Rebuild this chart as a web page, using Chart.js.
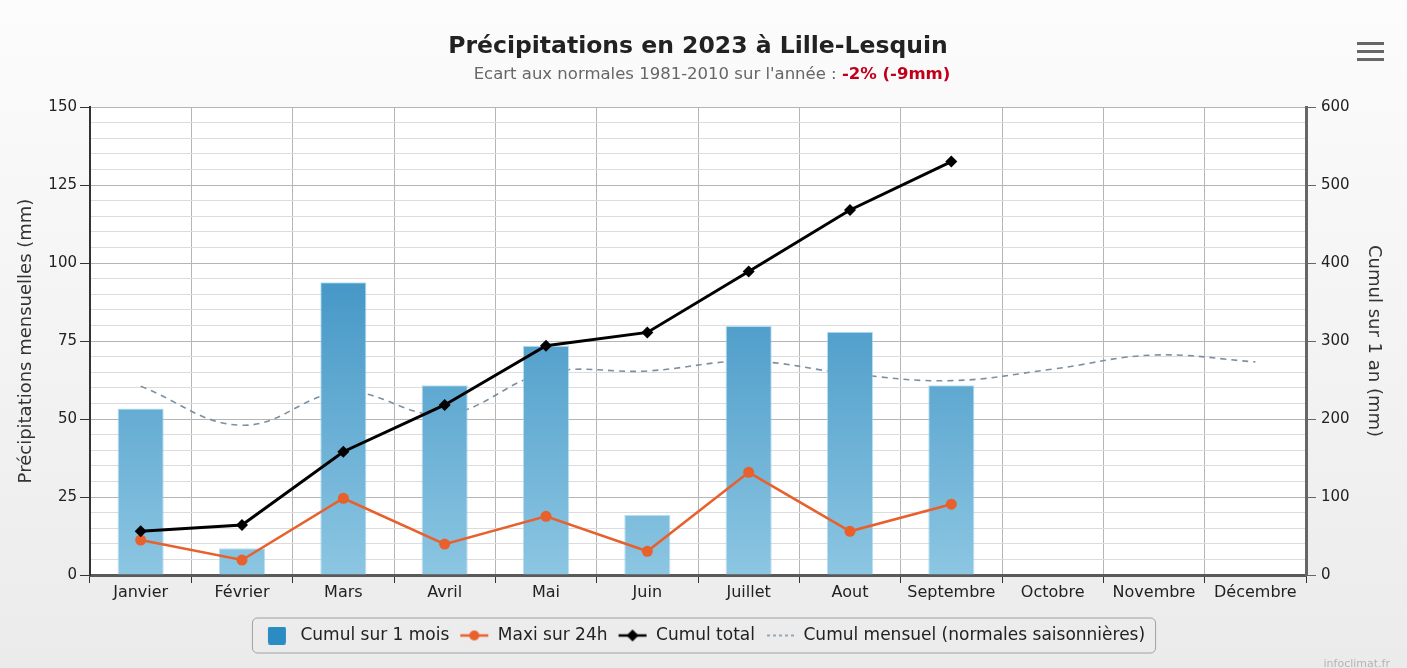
<!DOCTYPE html>
<html>
<head>
<meta charset="utf-8">
<script src="https://cdn.jsdelivr.net/npm/chart.js@4.4.0/dist/chart.umd.min.js"></script>
<style>
html, body { margin: 0; padding: 0; background: #f0f0f0; }
#wrap { position: relative; width: 1407px; height: 668px; }
</style>
</head>
<body>
<div id="wrap"><canvas id="pluie"></canvas></div>
<script>
// données
const mois = ['Janvier', 'Février', 'Mars', 'Avril', 'Mai', 'Juin', 'Juillet', 'Aout', 'Septembre', 'Octobre', 'Novembre', 'Décembre'];
const cumulMois = [53.4, 8.6, 93.8, 60.8, 73.5, 19.2, 79.8, 78.0, 60.8];
const maxi24h = [11.2, 4.8, 24.6, 9.9, 18.8, 7.6, 32.9, 14.0, 22.7];
const cumulTotal = [56, 64, 158, 218, 294, 311, 389, 468, 530];
const normales = [60.5, 48.0, 58.7, 51.5, 64.8, 65.4, 68.5, 64.5, 62.3, 66.0, 70.5, 68.3];
const ticksGauche = [0, 5, 10, 15, 20, 25, 30, 35, 40, 45, 50, 55, 60, 65, 70, 75, 80, 85, 90, 95, 100, 105, 110, 115, 120, 125, 130, 135, 140, 145, 150];
const ticksDroite = [0, 100, 200, 300, 400, 500, 600];
const legendes = ['Cumul sur 1 mois', 'Maxi sur 24h', 'Cumul total', 'Cumul mensuel (normales saisonnières)'];
const titre = 'Précipitations en 2023 à Lille-Lesquin';
const sousTitre = "Ecart aux normales 1981-2010 sur l'année : ";
const ecart = '-2% (-9mm)';

const FONT = 'DejaVu Sans';
const orange = '#e8602c';
const grisNormales = '#7b90a3';

const ctx = document.getElementById('pluie').getContext('2d');

// petits symboles pour la légende
const symbole = (draw) => {
    const c = document.createElement('canvas');
    c.width = 30;
    c.height = 18;
    draw(c.getContext('2d'));
    return c;
};
const symboles = [
    symbole(g => { g.fillStyle = '#2b8cc4'; g.beginPath(); g.roundRect(6, 0, 18, 18, 2); g.fill(); }),
    symbole(g => {
        g.strokeStyle = orange; g.lineWidth = 2.5;
        g.beginPath(); g.moveTo(1, 9); g.lineTo(29, 9); g.stroke();
        g.fillStyle = orange; g.beginPath(); g.arc(15, 9, 5, 0, Math.PI * 2); g.fill();
    }),
    symbole(g => {
        g.strokeStyle = '#000'; g.lineWidth = 2.5;
        g.beginPath(); g.moveTo(1, 9); g.lineTo(29, 9); g.stroke();
        g.fillStyle = '#000'; g.beginPath();
        g.moveTo(15, 3); g.lineTo(21, 9); g.lineTo(15, 15); g.lineTo(9, 9); g.closePath(); g.fill();
    }),
    symbole(g => {
        g.strokeStyle = grisNormales; g.lineWidth = 1.5; g.setLineDash([3, 3]);
        g.beginPath(); g.moveTo(2, 9); g.lineTo(29, 9); g.stroke();
    })
];

const decor = {
    id: 'decor',
    beforeDraw(chart) {
        const c = chart.ctx;
        const {width, height, chartArea: a} = chart;
        const bg = c.createLinearGradient(0, 0, 0, height);
        bg.addColorStop(0, '#fcfcfc');
        bg.addColorStop(1, '#ebebeb');
        c.save();
        c.fillStyle = bg;
        c.fillRect(0, 0, width, height);
        c.fillStyle = '#ffffff';
        c.fillRect(a.left, a.top, a.right - a.left, a.bottom - a.top);
        c.restore();
    },
    afterDraw(chart) {
        const c = chart.ctx;
        c.save();
        c.textBaseline = 'middle';
        c.textAlign = 'center';
        c.fillStyle = '#222';
        c.font = 'bold 23.5px "' + FONT + '"';
        c.fillText(titre, 698, 47);

        c.font = '16.5px "' + FONT + '"';
        const w1 = c.measureText(sousTitre).width;
        c.font = 'bold 16.5px "' + FONT + '"';
        const w2 = c.measureText(ecart).width;
        c.textAlign = 'left';
        const x0 = 712 - (w1 + w2) / 2;
        c.font = '16.5px "' + FONT + '"';
        c.fillStyle = '#666';
        c.fillText(sousTitre, x0, 75);
        c.font = 'bold 16.5px "' + FONT + '"';
        c.fillStyle = '#c0001a';
        c.fillText(ecart, x0 + w1, 75);

        // menu
        c.fillStyle = '#666';
        [42, 50, 58].forEach(y => c.fillRect(1357, y, 27, 3));

        // cadre de la légende
        const boxes = chart.legend.legendHitBoxes;
        if (boxes.length) {
            const l = Math.min(...boxes.map(b => b.left)) - 10;
            const r = Math.max(...boxes.map(b => b.left + b.width)) + 10;
            const mid = boxes[0].top + boxes[0].height / 2;
            c.strokeStyle = '#a0a0a0';
            c.lineWidth = 1;
            c.beginPath();
            c.roundRect(l + 0.5, mid - 17.5, r - l, 35, 5);
            c.stroke();
        }

        c.font = '11px "' + FONT + '"';
        c.fillStyle = 'rgba(0,0,0,0.25)';
        c.textAlign = 'right';
        c.fillText('infoclimat.fr', 1390, 664);
        c.restore();
    }
};

const degradeBarres = (context) => {
    const a = context.chart.chartArea;
    if (!a) return '#4a9ccb';
    const g = context.chart.ctx.createLinearGradient(0, a.top, 0, a.bottom);
    g.addColorStop(0, '#1c7cb6');
    g.addColorStop(1, '#8cc6e2');
    return g;
};

const tickFont = { family: FONT, size: 15 };

new Chart(ctx, {
    type: 'bar',
    data: {
        labels: mois,
        datasets: [{
            type: 'bar',
            label: legendes[0],
            data: cumulMois,
            backgroundColor: degradeBarres,
            borderColor: 'rgba(150,210,240,0.7)',
            borderWidth: 1,
            barPercentage: 0.455,
            categoryPercentage: 1,
            yAxisID: 'y',
            order: 3
        }, {
            type: 'line',
            label: legendes[1],
            data: maxi24h,
            borderColor: orange,
            backgroundColor: orange,
            borderWidth: 2.5,
            pointRadius: 5.5,
            pointBorderWidth: 0,
            pointBackgroundColor: orange,
            yAxisID: 'y',
            order: 1
        }, {
            type: 'line',
            label: legendes[2],
            data: cumulTotal,
            borderColor: '#000',
            backgroundColor: '#000',
            borderWidth: 3,
            pointStyle: 'rectRot',
            pointRadius: 6,
            pointBorderWidth: 0,
            pointBackgroundColor: '#000',
            yAxisID: 'y1',
            order: 0
        }, {
            type: 'line',
            label: legendes[3],
            data: normales,
            borderColor: grisNormales,
            borderWidth: 1.6,
            borderDash: [6, 5],
            pointRadius: 0,
            tension: 0.4,
            yAxisID: 'y',
            order: 4
        }]
    },
    options: {
        responsive: true,
        maintainAspectRatio: false,
        animation: false,
        layout: {
            padding: { top: 107, left: 0, right: 0, bottom: 14 }
        },
        plugins: {
            title: { display: false },
            tooltip: { enabled: false },
            legend: {
                position: 'bottom',
                labels: {
                    usePointStyle: true,
                    pointStyleWidth: 30,
                    padding: 10,
                    color: '#222',
                    font: { family: FONT, size: 17 },
                    sort: (a, b) => a.datasetIndex - b.datasetIndex,
                    generateLabels: (chart) => {
                        const items = Chart.defaults.plugins.legend.labels.generateLabels(chart);
                        items.forEach(it => { it.pointStyle = symboles[it.datasetIndex]; });
                        return items;
                    }
                }
            }
        },
        scales: {
            x: {
                afterFit: (scale) => { scale.height = 42; },
                grid: {
                    color: '#b5b5b5',
                    tickColor: '#333',
                    tickLength: 8
                },
                border: { color: '#595959', width: 3 },
                ticks: {
                    color: '#222',
                    font: { family: FONT, size: 16 },
                    padding: 0,
                    autoSkip: false,
                    maxRotation: 0
                }
            },
            y: {
                position: 'left',
                min: 0,
                max: 150,
                afterFit: (scale) => { scale.width = 90; },
                afterBuildTicks: (scale) => { scale.ticks = ticksGauche.map(v => ({ value: v })); },
                grid: {
                    color: (c) => c.tick && c.tick.value % 25 === 0 ? '#b5b5b5' : '#dcdcdc',
                    tickColor: (c) => c.tick && c.tick.value % 25 === 0 ? '#333' : 'rgba(0,0,0,0)',
                    tickLength: 10
                },
                border: { color: '#333', width: 2 },
                ticks: {
                    autoSkip: false,
                    color: '#222',
                    font: tickFont,
                    padding: 3,
                    callback: (v) => v % 25 === 0 ? v : ''
                },
                title: {
                    display: true,
                    text: 'Précipitations mensuelles (mm)',
                    color: '#333',
                    font: { family: FONT, size: 18 },
                    padding: { top: 16, bottom: 0 }
                }
            },
            y1: {
                position: 'right',
                min: 0,
                max: 600,
                afterFit: (scale) => { scale.width = 101; },
                afterBuildTicks: (scale) => { scale.ticks = ticksDroite.map(v => ({ value: v })); },
                grid: {
                    drawOnChartArea: false,
                    tickColor: '#666',
                    tickLength: 10
                },
                border: { color: '#666', width: 3 },
                ticks: {
                    color: '#222',
                    font: tickFont,
                    padding: 5
                },
                title: {
                    display: true,
                    text: 'Cumul sur 1 an (mm)',
                    color: '#333',
                    font: { family: FONT, size: 18 },
                    padding: { top: 23, bottom: 0 }
                }
            }
        }
    },
    plugins: [decor]
});
</script>
</body>
</html>
